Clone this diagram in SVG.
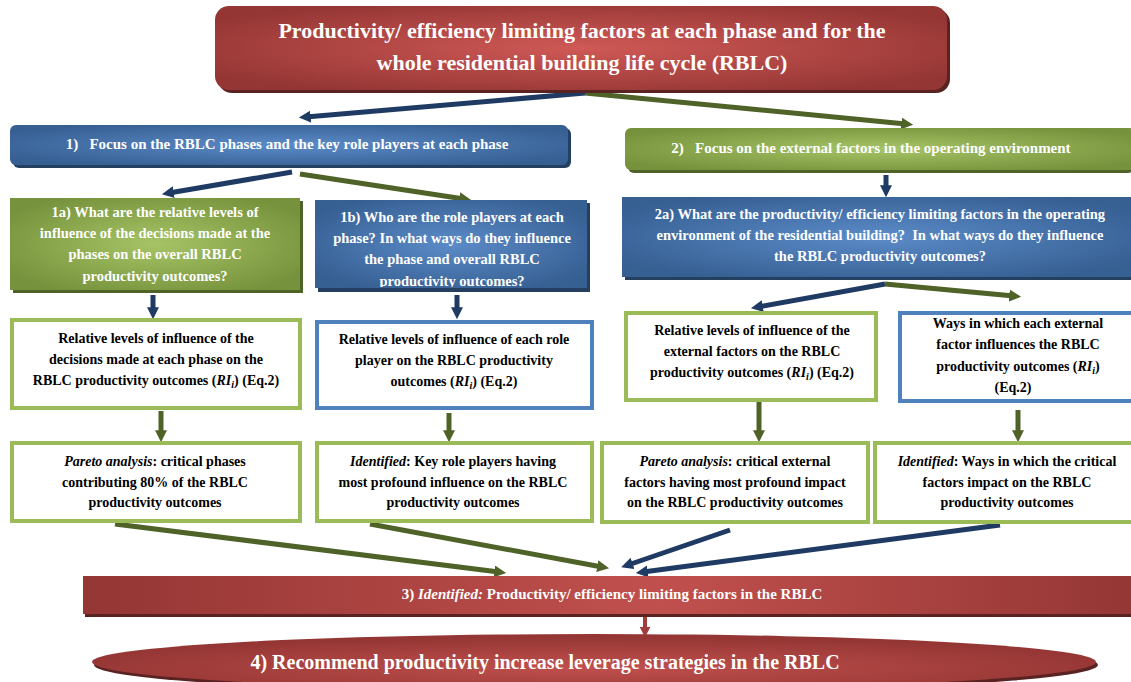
<svg xmlns="http://www.w3.org/2000/svg" width="1131" height="682" viewBox="0 0 1131 682">
<defs>
<radialGradient id="gRed" cx="50%" cy="50%" r="60%"><stop offset="0" stop-color="#cf5956"/><stop offset="1" stop-color="#943634"/></radialGradient>
<radialGradient id="gBlue" cx="50%" cy="50%" r="60%"><stop offset="0" stop-color="#5b8bc8"/><stop offset="1" stop-color="#365f92"/></radialGradient>
<radialGradient id="gGreen" cx="50%" cy="50%" r="60%"><stop offset="0" stop-color="#a6c466"/><stop offset="1" stop-color="#76923c"/></radialGradient>
<linearGradient id="gBar" x1="0" y1="0" x2="1" y2="0"><stop offset="0" stop-color="#943634"/><stop offset="0.55" stop-color="#c0504d"/><stop offset="1" stop-color="#953735"/></linearGradient>
<radialGradient id="gEll" cx="50%" cy="60%" r="55%"><stop offset="0" stop-color="#c0504d"/><stop offset="1" stop-color="#943634"/></radialGradient>
<marker id="mB" viewBox="0 0 10 10" refX="4" refY="5" markerWidth="12" markerHeight="12" markerUnits="userSpaceOnUse" orient="auto"><path d="M0,0 L10,5 L0,10 z" fill="#1f3b63"/></marker>
<marker id="mG" viewBox="0 0 10 10" refX="4" refY="5" markerWidth="12" markerHeight="12" markerUnits="userSpaceOnUse" orient="auto"><path d="M0,0 L10,5 L0,10 z" fill="#4f6228"/></marker>
<marker id="mR" viewBox="0 0 10 10" refX="4" refY="5" markerWidth="11" markerHeight="11" markerUnits="userSpaceOnUse" orient="auto"><path d="M0,0 L10,5 L0,10 z" fill="#a23c3a"/></marker>
<clipPath id="clip1b"><rect x="315" y="200" width="272" height="87"/></clipPath>
</defs>
<style>
.w{fill:#ffffff;text-anchor:middle}
.k{fill:#000000;font-size:14px;text-anchor:middle}
.q{fill:#ffffff;font-size:14.5px;text-anchor:middle}
.i{font-style:italic}
.sh{fill:#5a2322}
.shb{fill:#243f60}
.shg{fill:#4f6228}
.og{fill:#ffffff;stroke:#9bbb59;stroke-width:4}
.ob{fill:#ffffff;stroke:#4f81bd;stroke-width:4}
.cb{stroke:#1f3b63;stroke-width:5;fill:none}
.cg{stroke:#4f6228;stroke-width:5;fill:none}
.cr{stroke:#a23c3a;stroke-width:4;fill:none}
</style>

<g id="connectors">
<line class="cb" x1="585" y1="93" x2="306" y2="117" marker-end="url(#mB)"/>
<line class="cg" x1="585" y1="93" x2="906" y2="124" marker-end="url(#mG)"/>
<line class="cb" x1="292" y1="172" x2="169" y2="193" marker-end="url(#mB)"/>
<line class="cg" x1="300" y1="174" x2="464" y2="199" marker-end="url(#mG)"/>
<line class="cb" x1="886" y1="175" x2="886" y2="190" marker-end="url(#mB)"/>
<line class="cb" x1="153" y1="295" x2="153" y2="312" marker-end="url(#mB)"/>
<line class="cb" x1="457" y1="295" x2="457" y2="312" marker-end="url(#mB)"/>
<line class="cb" x1="885" y1="284" x2="758" y2="307" marker-end="url(#mB)"/>
<line class="cg" x1="885" y1="284" x2="1014" y2="296" marker-end="url(#mG)"/>
<line class="cg" x1="161" y1="411" x2="161" y2="435" marker-end="url(#mG)"/>
<line class="cg" x1="449" y1="413" x2="449" y2="435" marker-end="url(#mG)"/>
<line class="cg" x1="759" y1="402" x2="759" y2="435" marker-end="url(#mG)"/>
<line class="cg" x1="1018" y1="410" x2="1018" y2="435" marker-end="url(#mG)"/>
<line class="cg" x1="115" y1="524" x2="499" y2="572" marker-end="url(#mG)"/>
<line class="cg" x1="370" y1="524" x2="602" y2="567" marker-end="url(#mG)"/>
<line class="cb" x1="730" y1="530" x2="628" y2="565" marker-end="url(#mB)"/>
<line class="cb" x1="1000" y1="525" x2="643" y2="572" marker-end="url(#mB)"/>
<line class="cr" x1="645" y1="615" x2="645" y2="631" marker-end="url(#mR)"/>
</g>

<g id="top">
<rect x="218" y="9" width="732" height="84" rx="14" class="sh"/>
<rect x="215" y="6" width="732" height="84" rx="14" fill="url(#gRed)"/>
<text class="w" x="582" y="38" font-size="22" style="font-family:'Liberation Serif';font-weight:bold">Productivity/ efficiency limiting factors at each phase and for the</text>
<text class="w" x="582" y="70" font-size="22" style="font-family:'Liberation Serif';font-weight:bold">whole residential building life cycle (RBLC)</text>
</g>

<g id="n1">
<rect x="13" y="128" width="558" height="40" rx="6" class="shb"/>
<rect x="10" y="125" width="558" height="40" rx="6" fill="url(#gBlue)"/>
<text class="w" x="287" y="149" font-size="15" style="font-family:'Liberation Serif';font-weight:bold" xml:space="preserve">1)   Focus on the RBLC phases and the key role players at each phase</text>
</g>

<g id="n2">
<rect x="628" y="131" width="506" height="42" rx="6" class="shg"/>
<rect x="625" y="128" width="510" height="42" rx="6" fill="url(#gGreen)"/>
<text class="w" x="871" y="153" font-size="15" style="font-family:'Liberation Serif';font-weight:bold" xml:space="preserve">2)   Focus on the external factors in the operating environment</text>
</g>

<g id="n1a">
<rect x="13" y="201" width="290" height="92" class="shg"/>
<rect x="10" y="198" width="290" height="92" fill="url(#gGreen)"/>
<text class="q" x="155" y="217" style="font-family:'Liberation Serif';font-weight:bold">1a) What are the relative levels of</text>
<text class="q" x="155" y="238" style="font-family:'Liberation Serif';font-weight:bold">influence of the decisions made at the</text>
<text class="q" x="155" y="259" style="font-family:'Liberation Serif';font-weight:bold">phases on the overall RBLC</text>
<text class="q" x="155" y="281" style="font-family:'Liberation Serif';font-weight:bold">productivity outcomes?</text>
</g>

<g id="n1b">
<rect x="318" y="203" width="272" height="89" class="shb"/>
<rect x="315" y="200" width="272" height="88" fill="url(#gBlue)"/>
<g clip-path="url(#clip1b)">
<text class="q" x="452" y="222" style="font-family:'Liberation Serif';font-weight:bold">1b) Who are the role players at each</text>
<text class="q" x="452" y="243" style="font-family:'Liberation Serif';font-weight:bold">phase? In what ways do they influence</text>
<text class="q" x="452" y="264" style="font-family:'Liberation Serif';font-weight:bold">the phase and overall RBLC</text>
<text class="q" x="452" y="286" style="font-family:'Liberation Serif';font-weight:bold">productivity outcomes?</text>
</g>
</g>

<g id="n2a">
<rect x="625" y="200" width="509" height="80" class="shb"/>
<rect x="622" y="197" width="512" height="80" fill="url(#gBlue)"/>
<text class="q" x="880" y="219" style="font-family:'Liberation Serif';font-weight:bold">2a) What are the productivity/ efficiency limiting factors in the operating</text>
<text class="q" x="880" y="240" style="font-family:'Liberation Serif';font-weight:bold" xml:space="preserve">environment of the residential building?  In what ways do they influence</text>
<text class="q" x="880" y="261" style="font-family:'Liberation Serif';font-weight:bold">the RBLC productivity outcomes?</text>
</g>

<g id="r1">
<rect x="12" y="320" width="288" height="88" class="og"/>
<text class="k" x="156" y="343" style="font-family:'Liberation Serif';font-weight:bold">Relative levels of influence of the</text>
<text class="k" x="156" y="364" style="font-family:'Liberation Serif';font-weight:bold">decisions made at each phase on the</text>
<text class="k" x="156" y="385" style="font-family:'Liberation Serif';font-weight:bold">RBLC productivity outcomes (<tspan class="i">RI<tspan font-size="10" dy="3">i</tspan></tspan><tspan dy="-3">) (Eq.2)</tspan></text>
</g>

<g id="r2">
<rect x="317" y="322" width="275" height="86" class="ob"/>
<text class="k" x="454" y="344" style="font-family:'Liberation Serif';font-weight:bold">Relative levels of influence of each role</text>
<text class="k" x="454" y="365" style="font-family:'Liberation Serif';font-weight:bold">player on the RBLC productivity</text>
<text class="k" x="454" y="386" style="font-family:'Liberation Serif';font-weight:bold">outcomes (<tspan class="i">RI<tspan font-size="10" dy="3">i</tspan></tspan><tspan dy="-3">) (Eq.2)</tspan></text>
</g>

<g id="r3">
<rect x="626" y="313" width="250" height="87" class="og"/>
<text class="k" x="752" y="335" style="font-family:'Liberation Serif';font-weight:bold">Relative levels of influence of the</text>
<text class="k" x="752" y="356" style="font-family:'Liberation Serif';font-weight:bold">external factors on the RBLC</text>
<text class="k" x="752" y="377" style="font-family:'Liberation Serif';font-weight:bold">productivity outcomes (<tspan class="i">RI<tspan font-size="10" dy="3">i</tspan></tspan><tspan dy="-3">) (Eq.2)</tspan></text>
</g>

<g id="r4">
<rect x="900" y="313" width="235" height="88" class="ob"/>
<text class="k" x="1018" y="328" style="font-family:'Liberation Serif';font-weight:bold">Ways in which each external</text>
<text class="k" x="1018" y="349" style="font-family:'Liberation Serif';font-weight:bold">factor influences the RBLC</text>
<text class="k" x="1018" y="371" style="font-family:'Liberation Serif';font-weight:bold">productivity outcomes (<tspan class="i">RI<tspan font-size="10" dy="3">i</tspan></tspan><tspan dy="-3">)</tspan></text>
<text class="k" x="1013" y="392" style="font-family:'Liberation Serif';font-weight:bold">(Eq.2)</text>
</g>

<g id="p1">
<rect x="12" y="443" width="288" height="78" class="og"/>
<text class="k" x="155" y="466" style="font-family:'Liberation Serif';font-weight:bold"><tspan class="i">Pareto analysis</tspan>: critical phases</text>
<text class="k" x="155" y="487" style="font-family:'Liberation Serif';font-weight:bold">contributing 80% of the RBLC</text>
<text class="k" x="155" y="507" style="font-family:'Liberation Serif';font-weight:bold">productivity outcomes</text>
</g>

<g id="p2">
<rect x="317" y="443" width="275" height="78" class="og"/>
<text class="k" x="453" y="466" style="font-family:'Liberation Serif';font-weight:bold"><tspan class="i">Identified</tspan>: Key role players having</text>
<text class="k" x="453" y="487" style="font-family:'Liberation Serif';font-weight:bold">most profound influence on the RBLC</text>
<text class="k" x="453" y="507" style="font-family:'Liberation Serif';font-weight:bold">productivity outcomes</text>
</g>

<g id="p3">
<rect x="602" y="443" width="266" height="79" class="og"/>
<text class="k" x="735" y="466" style="font-family:'Liberation Serif';font-weight:bold"><tspan class="i">Pareto analysis</tspan>: critical external</text>
<text class="k" x="735" y="487" style="font-family:'Liberation Serif';font-weight:bold">factors having most profound impact</text>
<text class="k" x="735" y="507" style="font-family:'Liberation Serif';font-weight:bold">on the RBLC productivity outcomes</text>
</g>

<g id="p4">
<rect x="875" y="443" width="260" height="79" class="og"/>
<text class="k" x="1007" y="466" style="font-family:'Liberation Serif';font-weight:bold"><tspan class="i">Identified</tspan>: Ways in which the critical</text>
<text class="k" x="1007" y="487" style="font-family:'Liberation Serif';font-weight:bold">factors impact on the RBLC</text>
<text class="k" x="1007" y="507" style="font-family:'Liberation Serif';font-weight:bold">productivity outcomes</text>
</g>

<g id="n3">
<rect x="85" y="579" width="1048" height="38" class="sh"/>
<rect x="83" y="576" width="1048" height="38" fill="url(#gBar)"/>
<text class="w" x="612" y="599" font-size="15" style="font-family:'Liberation Serif';font-weight:bold">3) <tspan class="i">Identified:</tspan> Productivity/ efficiency limiting factors in the RBLC</text>
</g>

<g id="n4">
<ellipse cx="596" cy="665" rx="502" ry="28" class="sh"/>
<ellipse cx="594" cy="662" rx="502" ry="28" fill="url(#gEll)"/>
<text class="w" x="545" y="669" font-size="20" style="font-family:'Liberation Serif';font-weight:bold">4) Recommend productivity increase leverage strategies in the RBLC</text>
</g>
</svg>
